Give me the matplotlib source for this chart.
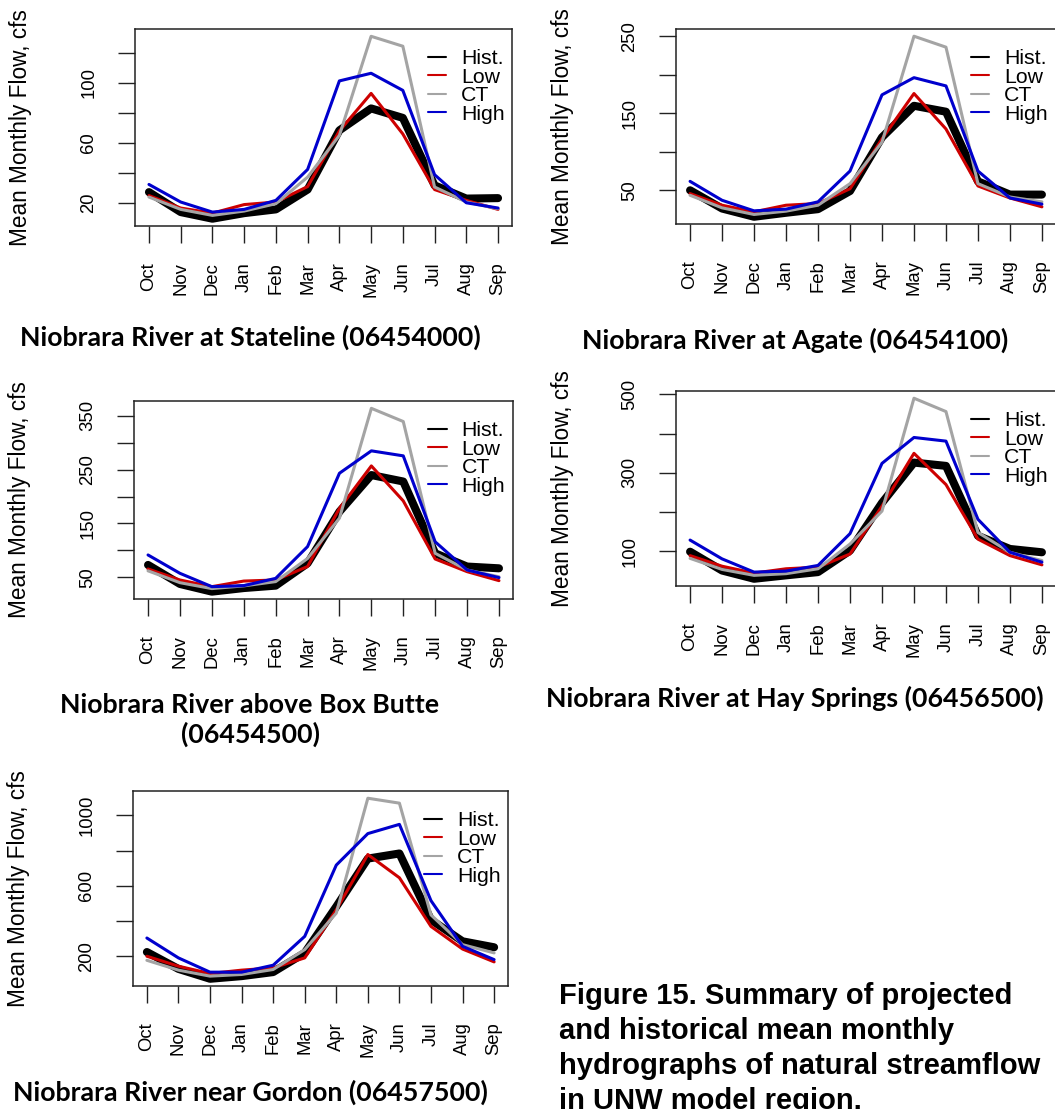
import matplotlib
matplotlib.use("Agg")
import matplotlib.pyplot as plt
import numpy as np

# Mean monthly flow (cfs), water-year order Oct..Sep
months = ["Oct", "Nov", "Dec", "Jan", "Feb", "Mar", "Apr", "May", "Jun", "Jul", "Aug", "Sep"]
series_names = ["Hist.", "Low", "CT", "High"]

stateline_hist = [27.3, 14.0, 9.6, 13.3, 15.8, 29.0, 68.4, 83.0, 76.7, 31.8, 23.0, 23.3]
stateline_low = [25.0, 16.7, 13.3, 19.0, 20.7, 31.0, 68.0, 93.0, 66.0, 29.0, 21.8, 15.8]
stateline_ct = [24.0, 15.8, 11.8, 14.7, 19.6, 37.3, 65.0, 131.0, 124.4, 30.7, 20.7, 16.2]
stateline_high = [32.4, 20.7, 14.0, 15.8, 21.8, 42.4, 101.3, 106.4, 95.0, 38.9, 20.2, 16.7]

agate_hist = [50.0, 26.3, 15.6, 20.8, 25.5, 49.0, 118.8, 159.7, 152.0, 61.6, 44.4, 44.4]
agate_low = [45.7, 30.6, 22.0, 30.6, 32.8, 52.0, 116.7, 175.6, 129.6, 55.6, 40.0, 28.5]
agate_ct = [43.5, 27.2, 18.6, 22.9, 30.6, 58.6, 112.4, 250.0, 235.8, 58.6, 41.3, 35.0]
agate_high = [61.6, 37.0, 23.3, 25.5, 35.0, 75.0, 173.9, 196.2, 185.5, 75.0, 40.0, 32.0]

boxbutte_hist = [73.0, 37.6, 23.3, 30.0, 34.5, 76.0, 172.0, 240.0, 228.0, 94.6, 70.0, 66.7]
boxbutte_low = [65.5, 45.0, 32.6, 43.0, 45.0, 70.0, 178.0, 257.0, 192.0, 84.0, 60.5, 43.8]
boxbutte_ct = [62.0, 40.0, 29.0, 34.0, 42.0, 85.0, 160.0, 364.0, 339.5, 94.6, 63.6, 51.0]
boxbutte_high = [91.5, 57.4, 32.6, 34.5, 48.0, 107.0, 243.4, 285.0, 275.7, 116.0, 63.6, 49.4]

hayspr_hist = [99.0, 51.0, 30.0, 38.7, 47.0, 101.7, 223.5, 326.0, 317.6, 139.5, 106.0, 97.5]
hayspr_low = [89.0, 62.0, 44.5, 55.5, 59.7, 93.0, 215.0, 349.6, 270.0, 131.0, 89.0, 65.5]
hayspr_ct = [82.0, 53.8, 38.7, 43.0, 55.5, 118.5, 202.5, 490.0, 456.0, 148.0, 97.5, 76.5]
hayspr_high = [128.6, 80.7, 47.0, 49.6, 64.0, 145.0, 324.0, 390.0, 380.7, 181.5, 97.5, 72.3]

gordon_hist = [224, 128, 72, 87, 110, 219, 482, 755, 784, 407, 285, 251]
gordon_low = [200, 143.5, 102, 121, 134, 190.6, 463.7, 778, 646, 369.5, 241, 168]
gordon_ct = [177, 121, 87, 96.4, 124.7, 237.7, 445, 1098, 1070, 435, 266, 219]
gordon_high = [303.6, 190.6, 109.6, 109.6, 149, 313, 718, 897, 949.5, 516, 256.5, 181]

titles = [
    "Niobrara River at Stateline (06454000)",
    "Niobrara River at Agate (06454100)",
    "Niobrara River above Box Butte\n(06454500)",
    "Niobrara River at Hay Springs (06456500)",
    "Niobrara River near Gordon (06457500)",
]
y_ticks = [
    [20, 40, 60, 80, 100, 120],
    [50, 100, 150, 200, 250],
    [50, 100, 150, 200, 250, 300, 350],
    [100, 200, 300, 400, 500],
    [200, 400, 600, 800, 1000],
]
# R drops every other label when they would collide
y_labelled = [
    [20, 60, 100],
    [50, 150, 250],
    [50, 150, 250, 350],
    [100, 300, 500],
    [200, 600, 1000],
]
caption = ("Figure 15. Summary of projected\nand historical mean monthly\n"
           "hydrographs of natural streamflow\nin UNW model region.")

panels = [
    [stateline_hist, stateline_low, stateline_ct, stateline_high],
    [agate_hist, agate_low, agate_ct, agate_high],
    [boxbutte_hist, boxbutte_low, boxbutte_ct, boxbutte_high],
    [hayspr_hist, hayspr_low, hayspr_ct, hayspr_high],
    [gordon_hist, gordon_low, gordon_ct, gordon_high],
]

colors = ["black", "#CD0000", "#A4A4A4", "#0000CD"]
widths = [5.8, 2.2, 2.2, 2.2]

W, H = 1055, 1109
# axes boxes in pixels: left, right, top, bottom
boxes = [
    (135, 512, 29, 226),
    (676, 1056, 29, 224),
    (134, 513, 401, 599),
    (676, 1056, 391, 586),
    (133, 508, 791, 986),
]
title_xy = [(250, 337), (795, 340), (250, 720), (795, 698), (250, 1092)]

plt.rcParams["font.family"] = ["Liberation Sans", "DejaVu Sans"]
fig = plt.figure(figsize=(W / 100, H / 100), dpi=100)

x = np.arange(1, 13)
for k, (series, (l, r, t, b)) in enumerate(zip(panels, boxes)):
    ax = fig.add_axes([l / W, 1 - b / H, (r - l) / W, (b - t) / H])
    for vals, name, c, lw in zip(series, series_names, colors, widths):
        ax.plot(x, vals, color=c, lw=lw, solid_capstyle="round",
                solid_joinstyle="round", label=name)

    # R-style 4% padding on both axes
    allv = np.concatenate([np.asarray(s, float) for s in series])
    lo, hi = allv.min(), allv.max()
    pad = 0.04 * (hi - lo)
    ax.set_ylim(lo - pad, hi + pad)
    ax.set_xlim(1 - 0.44, 12 + 0.44)

    ax.set_xticks(x)
    ax.set_xticklabels(months, rotation=90, va="top", ha="center")
    ax.set_yticks(y_ticks[k])
    ax.set_yticklabels([str(v) if v in y_labelled[k] else "" for v in y_ticks[k]],
                       rotation=90, va="center")
    ax.tick_params(axis="x", length=12.2, width=1.0, pad=13.7, labelsize=13.3,
                   color="#222222")
    ax.tick_params(axis="y", length=12.2, width=1.0, pad=15, labelsize=13.3,
                   color="#222222")
    for sp in ax.spines.values():
        sp.set_linewidth(1.1)
        sp.set_color("#222222")
    if r > W:
        # right edge of the plot box falls outside the page
        ax.spines["right"].set_visible(False)

    ax.annotate("Mean Monthly Flow, cfs", xy=(0, 0.5), xycoords="axes fraction",
                xytext=(-114 * 0.72, 0), textcoords="offset points",
                rotation=90, ha="center", va="center", fontsize=16.3)

    leg = ax.legend(loc="upper left", bbox_to_anchor=(0.777, 1 - 20 / (b - t)),
                    frameon=False, fontsize=15.3, handlelength=0.85,
                    handletextpad=0.7, labelspacing=-0.02, borderpad=0,
                    borderaxespad=0)
    for h in leg.get_lines():
        h.set_linewidth(1.5)

    tx, ty = title_xy[k]
    fig.text(tx / W, 1 - ty / H, titles[k], ha="center", va="center",
             fontsize=19.3, fontweight="bold", family="Lato", linespacing=1.2)

fig.text(559 / W, 1 - 982 / H, caption, ha="left", va="top", fontsize=21,
         fontweight="bold", linespacing=1.32)

fig.savefig("out.png", dpi=100)
